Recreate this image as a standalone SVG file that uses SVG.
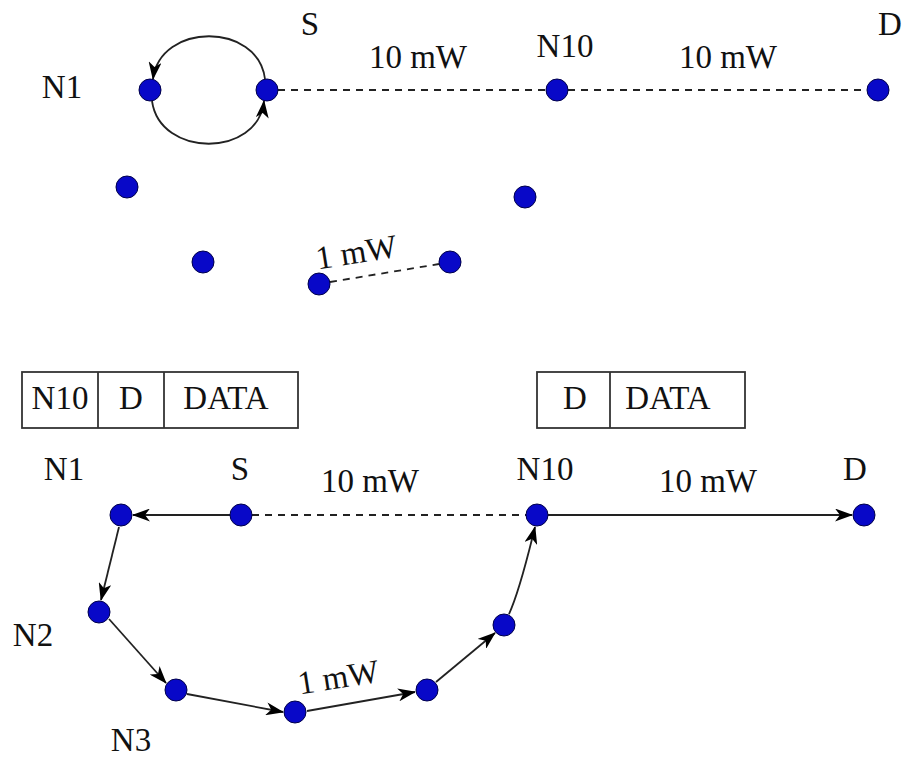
<svg xmlns="http://www.w3.org/2000/svg" width="907" height="759" viewBox="0 0 907 759">
  <style>
    .node { fill: #0808c8; stroke: #00004a; stroke-width: 1; }
    .lbl { font-family: "Liberation Serif", "Times New Roman", serif; font-size: 33px; fill: #111; text-anchor: middle; }
    .solid { fill: none; stroke: #222; stroke-width: 1.8; }
    .dash { fill: none; stroke: #222; stroke-width: 1.8; stroke-dasharray: 7 6; }
    .box { fill: #fff; stroke: #333; stroke-width: 1.8; }
  </style>
  <defs>
    <marker id="arr" viewBox="0 0 18 13" refX="17" refY="6.5" markerWidth="18" markerHeight="13" markerUnits="userSpaceOnUse" orient="auto">
      <path d="M0,0 L18,6.5 L0,13 L5,6.5 z" fill="#000"/>
    </marker>
  </defs>

  <!-- connectors -->
  <g id="connectors">
    <!-- upper graph -->
    <path class="solid" d="M265,79 C258,22 160,22 153,79" marker-end="url(#arr)"/>
    <path class="solid" d="M152,101 C160,158 258,158 264,101" marker-end="url(#arr)"/>
    <line class="dash" x1="278" y1="90" x2="546" y2="90"/>
    <line class="dash" x1="568" y1="90" x2="867" y2="90"/>
    <line class="dash" x1="330" y1="282" x2="439" y2="264"/>
    <!-- lower graph -->
    <line class="solid" x1="230" y1="515" x2="133" y2="515" marker-end="url(#arr)"/>
    <line class="dash" x1="252" y1="515" x2="526" y2="515"/>
    <line class="solid" x1="548" y1="515" x2="852" y2="515" marker-end="url(#arr)"/>
    <line class="solid" x1="119" y1="527" x2="101" y2="600" marker-end="url(#arr)"/>
    <line class="solid" x1="109" y1="619" x2="166" y2="683" marker-end="url(#arr)"/>
    <line class="solid" x1="187" y1="694" x2="283" y2="712" marker-end="url(#arr)"/>
    <line class="solid" x1="307" y1="711" x2="415" y2="692" marker-end="url(#arr)"/>
    <line class="solid" x1="436" y1="682" x2="495" y2="633" marker-end="url(#arr)"/>
    <path class="solid" d="M509,614 C520,590 528,555 535,527" marker-end="url(#arr)"/>
  </g>

  <!-- upper graph nodes -->
  <g id="u-n1"><circle class="node" cx="150" cy="90" r="11"/><text class="lbl" x="62" y="98">N1</text></g>
  <g id="u-s"><circle class="node" cx="267" cy="90" r="11"/><text class="lbl" x="310" y="35">S</text></g>
  <g id="u-n10"><circle class="node" cx="557" cy="90" r="11"/><text class="lbl" x="565" y="57">N10</text></g>
  <g id="u-d"><circle class="node" cx="878" cy="90" r="11"/><text class="lbl" x="890" y="35">D</text></g>
  <g id="u-a"><circle class="node" cx="127" cy="187" r="11"/></g>
  <g id="u-b"><circle class="node" cx="525" cy="197" r="11"/></g>
  <g id="u-c"><circle class="node" cx="203" cy="262" r="11"/></g>
  <g id="u-e"><circle class="node" cx="319" cy="284" r="11"/></g>
  <g id="u-f"><circle class="node" cx="450" cy="262" r="11"/></g>
  <g id="u-labels">
    <text class="lbl" x="418" y="68">10 mW</text>
    <text class="lbl" x="728" y="68">10 mW</text>
    <text class="lbl" x="0" y="0" transform="translate(358,263) rotate(-9)">1 mW</text>
  </g>

  <!-- packet headers -->
  <g id="pkt1">
    <rect class="box" x="22" y="372" width="276" height="56"/>
    <line class="box" x1="98" y1="372" x2="98" y2="428"/>
    <line class="box" x1="164" y1="372" x2="164" y2="428"/>
    <text class="lbl" x="60" y="409">N10</text>
    <text class="lbl" x="131" y="409">D</text>
    <text class="lbl" x="226" y="409">DATA</text>
  </g>
  <g id="pkt2">
    <rect class="box" x="537" y="372" width="208" height="56"/>
    <line class="box" x1="610" y1="372" x2="610" y2="428"/>
    <text class="lbl" x="575" y="409">D</text>
    <text class="lbl" x="668" y="409">DATA</text>
  </g>

  <!-- lower graph nodes -->
  <g id="l-n1"><circle class="node" cx="121" cy="515" r="11"/><text class="lbl" x="64" y="480">N1</text></g>
  <g id="l-s"><circle class="node" cx="241" cy="515" r="11"/><text class="lbl" x="240" y="480">S</text></g>
  <g id="l-n10"><circle class="node" cx="537" cy="515" r="11"/><text class="lbl" x="545" y="480">N10</text></g>
  <g id="l-d"><circle class="node" cx="864" cy="515" r="11"/><text class="lbl" x="855" y="480">D</text></g>
  <g id="l-n2"><circle class="node" cx="99" cy="612" r="11"/><text class="lbl" x="33" y="646">N2</text></g>
  <g id="l-n3"><circle class="node" cx="176" cy="690" r="11"/><text class="lbl" x="131" y="751">N3</text></g>
  <g id="l-p"><circle class="node" cx="295" cy="712" r="11"/></g>
  <g id="l-q"><circle class="node" cx="427" cy="690" r="11"/></g>
  <g id="l-r"><circle class="node" cx="504" cy="625" r="11"/></g>
  <g id="l-labels">
    <text class="lbl" x="370" y="492">10 mW</text>
    <text class="lbl" x="708" y="492">10 mW</text>
    <text class="lbl" x="0" y="0" transform="translate(340,688) rotate(-9)">1 mW</text>
  </g>
</svg>
